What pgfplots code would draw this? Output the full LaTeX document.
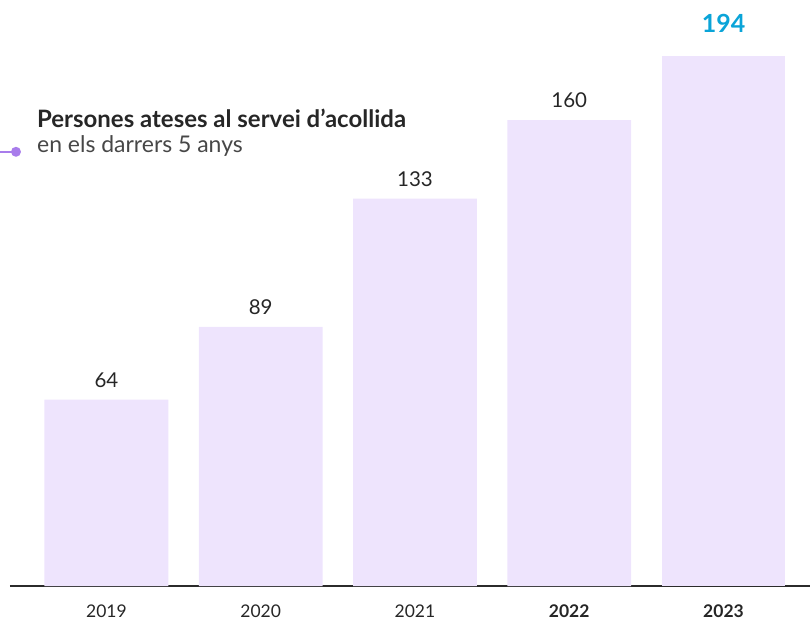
\documentclass[border=0pt]{standalone}
\usepackage{pgfplots}
\pgfplotsset{compat=1.18}
\usepackage{fontspec}
\setmainfont{Lato}

\definecolor{barfill}{HTML}{EEE4FD}
\definecolor{axisdark}{HTML}{2B2B2B}
\definecolor{accentblue}{HTML}{0AA4D8}
\definecolor{accentpurple}{HTML}{A87CEB}
\definecolor{textdark}{HTML}{262626}

\begin{document}
\begin{tikzpicture}
\begin{axis}[
    name=ax,
    scale only axis,
    width=801bp, height=531bp,
    xmin=-0.625, xmax=4.56,
    ymin=0, ymax=182,
    clip=false,
    axis x line*=bottom,
    axis y line=none,
    x axis line style={draw=axisdark, line width=2.2bp, -},
    xtick={0,1,2,3,4},
    xticklabels={2019,2020,2021,\textbf{2022},\textbf{2023}},
    xticklabel style={font=\fontsize{17.5bp}{20bp}\selectfont, text=textdark, anchor=center, yshift=-25.5bp},
    /pgf/number format/assume math mode=true,
    major tick length=0pt,
    tick style={draw=none},
    ybar, bar width=124bp,
    bar shift=0pt,
    nodes near coords,
    point meta=explicit symbolic,
    every node near coord/.append style={font=\fontsize{20.5bp}{24bp}\selectfont, text=textdark, anchor=center, yshift=20bp},
]
% bar heights as drawn; labels carry the values
\addplot[fill=barfill, draw=none] coordinates {(0,64) [64] (1,89) [89] (2,133) [133] (3,160) [160]};
\addplot[fill=barfill, draw=none,
    every node near coord/.append style={font=\bfseries\fontsize{25bp}{28bp}\selectfont, text=accentblue, yshift=13bp}]
    coordinates {(4,182) [194]};
\coordinate (bl) at (rel axis cs:0,0);
\end{axis}
\useasboundingbox ([xshift=-10bp,yshift=-32bp]bl) rectangle ([xshift=801bp,yshift=587bp]bl);
\node[anchor=base west, inner sep=0pt, font=\bfseries\fontsize{24bp}{28bp}\selectfont, text=textdark]
    at ([xshift=27bp,yshift=459bp]bl) {Persones ateses al servei d’acollida};
\node[anchor=base west, inner sep=0pt, font=\fontsize{23bp}{27bp}\selectfont, text=textdark!85]
    at ([xshift=27bp,yshift=434bp]bl) {en els darrers 5 anys};
\draw[accentpurple, line width=2bp] ([xshift=-10bp,yshift=435bp]bl) -- ([xshift=6bp,yshift=435bp]bl);
\fill[accentpurple] ([xshift=6bp,yshift=435bp]bl) circle (5bp);
\end{tikzpicture}
\end{document}
